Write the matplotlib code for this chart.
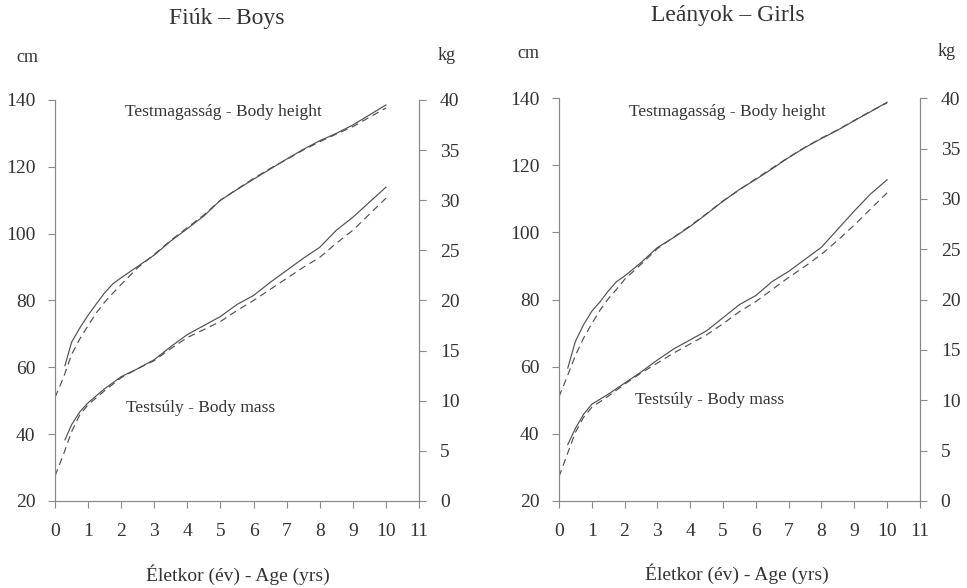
import numpy as np
import matplotlib.pyplot as plt

plt.rcParams['font.family'] = ['Liberation Serif', 'DejaVu Serif']

# Boys - body height (cm)
boys_h_age = [0.3, 0.5, 0.75, 1.0, 1.25, 1.5, 1.75, 2.0, 2.5, 3.0, 3.5, 4.0, 4.5, 5.0,
              5.5, 6.0, 6.5, 7.0, 7.5, 8.0, 8.5, 9.0, 9.5, 10.0]
boys_h = [60.5, 67.5, 71.8, 75.6, 79.0, 82.3, 85.0, 86.8, 90.2, 93.6, 97.8, 101.5, 105.3,
          110.0, 113.2, 116.3, 119.3, 122.3, 125.2, 127.8, 130.0, 132.5, 135.5, 138.5]
boys_h_ref_age = [0.0, 0.25, 0.5, 0.75, 1.0, 1.25, 1.5, 1.75, 2.0, 2.5, 3.0, 3.5, 4.0, 4.5,
                  5.0, 5.5, 6.0, 6.5, 7.0, 7.5, 8.0, 8.5, 9.0, 9.5, 10.0]
boys_h_ref = [51.0, 56.8, 63.8, 68.5, 72.5, 76.3, 79.5, 82.2, 84.8, 89.8, 93.8, 98.0, 101.8,
              105.6, 110.0, 113.3, 116.5, 119.5, 122.2, 125.0, 127.5, 129.8, 132.0, 134.8, 137.6]

# Boys - body mass (kg)
boys_m_age = [0.3, 0.5, 0.75, 1.0, 1.5, 2.0, 2.5, 3.0, 3.5, 4.0, 4.5, 5.0, 5.5, 6.0, 6.5,
              7.0, 7.5, 8.0, 8.5, 9.0, 9.5, 10.0]
boys_m = [6.1, 7.6, 8.9, 9.8, 11.2, 12.4, 13.2, 14.1, 15.4, 16.6, 17.5, 18.4, 19.6, 20.5,
          21.8, 23.0, 24.2, 25.3, 27.0, 28.3, 29.8, 31.3]
boys_m_ref_age = [0.0, 0.25, 0.5, 0.75, 1.0, 1.5, 2.0, 2.5, 3.0, 3.5, 4.0, 4.5, 5.0, 5.5,
                  6.0, 6.5, 7.0, 7.5, 8.0, 8.5, 9.0, 9.5, 10.0]
boys_m_ref = [2.5, 4.6, 6.9, 8.6, 9.6, 11.0, 12.3, 13.2, 14.0, 15.2, 16.3, 17.1, 17.9, 19.0,
              20.0, 21.1, 22.2, 23.3, 24.3, 25.7, 27.0, 28.6, 30.2]

# Girls - body height (cm)
girls_h_age = [0.27, 0.5, 0.75, 1.0, 1.25, 1.5, 1.75, 2.0, 2.5, 3.0, 3.5, 4.0, 4.5, 5.0,
               5.5, 6.0, 6.5, 7.0, 7.5, 8.0, 8.5, 9.0, 9.5, 10.0]
girls_h = [59.6, 67.5, 72.5, 76.5, 79.3, 82.5, 85.3, 87.0, 91.0, 95.5, 98.5, 101.8, 105.5,
           109.3, 112.8, 115.8, 119.0, 122.3, 125.3, 128.0, 130.5, 133.3, 136.0, 138.8]
girls_h_ref_age = [0.0, 0.25, 0.5, 0.75, 1.0, 1.25, 1.5, 1.75, 2.0, 2.5, 3.0, 3.5, 4.0, 4.5,
                   5.0, 5.5, 6.0, 6.5, 7.0, 7.5, 8.0, 8.5, 9.0, 9.5, 10.0]
girls_h_ref = [51.0, 57.0, 63.3, 68.5, 72.8, 76.8, 80.2, 83.0, 86.0, 90.5, 95.2, 98.6, 102.0,
               105.6, 109.4, 112.7, 116.0, 119.2, 122.4, 125.4, 128.1, 130.6, 133.4, 136.1, 138.6]

# Girls - body mass (kg)
girls_m_age = [0.27, 0.5, 0.75, 1.0, 1.5, 2.0, 2.5, 3.0, 3.5, 4.0, 4.5, 5.0, 5.5, 6.0, 6.5,
               7.0, 7.5, 8.0, 8.5, 9.0, 9.5, 10.0]
girls_m = [5.6, 7.2, 8.6, 9.6, 10.6, 11.7, 12.8, 14.0, 15.1, 16.0, 16.9, 18.2, 19.5, 20.4,
           21.8, 22.8, 24.0, 25.2, 27.0, 28.8, 30.5, 31.9]
girls_m_ref_age = [0.0, 0.25, 0.5, 0.75, 1.0, 1.5, 2.0, 2.5, 3.0, 3.5, 4.0, 4.5, 5.0, 5.5,
                   6.0, 6.5, 7.0, 7.5, 8.0, 8.5, 9.0, 9.5, 10.0]
girls_m_ref = [2.4, 4.6, 6.8, 8.3, 9.3, 10.4, 11.6, 12.7, 13.7, 14.7, 15.6, 16.5, 17.6, 18.8,
               19.8, 21.0, 22.2, 23.3, 24.5, 25.9, 27.4, 29.0, 30.6]

cm_ticks = [20, 40, 60, 80, 100, 120, 140]
kg_ticks = [0, 5, 10, 15, 20, 25, 30, 35, 40]
age_ticks = list(range(0, 12))

line_col = '#505050'
axis_col = '#8a8a8a'
text_col = '#333333'

fig = plt.figure(figsize=(9.67, 5.88), dpi=100)

panels = [
    dict(rect=[0.0569, 0.148, 0.3764, 0.682], title='Fiúk – Boys', tpos=(0.2347, 0.969),
         xlpos=(0.246, 0.022), cmpos=(-0.077, 1.107), kgpos=(1.077, 1.11),
         h=(boys_h_age, boys_h, boys_h_ref_age, boys_h_ref),
         m=(boys_m_age, boys_m, boys_m_ref_age, boys_m_ref),
         ht=(5.1, 136.4), mt=(4.4, 47.8)),
    dict(rect=[0.578, 0.148, 0.3733, 0.685], title='Leányok – Girls', tpos=(0.753, 0.974),
         xlpos=(0.762, 0.024), cmpos=(-0.086, 1.11), kgpos=(1.075, 1.115),
         h=(girls_h_age, girls_h, girls_h_ref_age, girls_h_ref),
         m=(girls_m_age, girls_m, girls_m_ref_age, girls_m_ref),
         ht=(5.15, 135.8), mt=(4.6, 50.1)),
]

for p in panels:
    ax = fig.add_axes(p['rect'])
    ax2 = ax.twinx()

    a, v, ar, vr = p['h']
    ax.plot(a, v, color=line_col, lw=0.85)
    ax.plot(ar, vr, color=line_col, lw=0.85, ls=(0, (6, 4)))
    a, v, ar, vr = p['m']
    ax2.plot(a, v, color=line_col, lw=0.85)
    ax2.plot(ar, vr, color=line_col, lw=0.85, ls=(0, (6, 4)))

    ax.set_xlim(0, 11)
    ax.set_ylim(20, 140)
    ax2.set_ylim(0, 40)
    ax.set_xticks(age_ticks)
    ax.set_yticks(cm_ticks)
    ax2.set_yticks(kg_ticks)

    for a_ in (ax, ax2):
        a_.spines['top'].set_visible(False)
        for s in a_.spines.values():
            s.set_color(axis_col)
            s.set_linewidth(0.8)
        a_.tick_params(direction='out', length=5, width=0.8, color=axis_col,
                       labelsize=14, labelcolor=text_col)
    ax.tick_params(axis='y', pad=9)
    ax.tick_params(axis='x', pad=11)
    ax2.tick_params(axis='y', pad=10)

    ax.text(p['ht'][0], p['ht'][1], 'Testmagasság - Body height', ha='center', va='center',
            fontsize=12.5, color=text_col)
    ax.text(p['mt'][0], p['mt'][1], 'Testsúly - Body mass', ha='center', va='center',
            fontsize=12.5, color=text_col)
    ax.text(p['cmpos'][0], p['cmpos'][1], 'cm', transform=ax.transAxes, ha='center',
            va='center', fontsize=13, color=text_col)
    ax.text(p['kgpos'][0], p['kgpos'][1], 'kg', transform=ax.transAxes, ha='center',
            va='center', fontsize=13, color=text_col)
    fig.text(p['tpos'][0], p['tpos'][1], p['title'], ha='center', va='center',
             fontsize=17, color=text_col)
    fig.text(p['xlpos'][0], p['xlpos'][1], 'Életkor (év) - Age (yrs)', ha='center',
             va='center', fontsize=14, color=text_col)

fig.savefig('out.png', dpi=100)
